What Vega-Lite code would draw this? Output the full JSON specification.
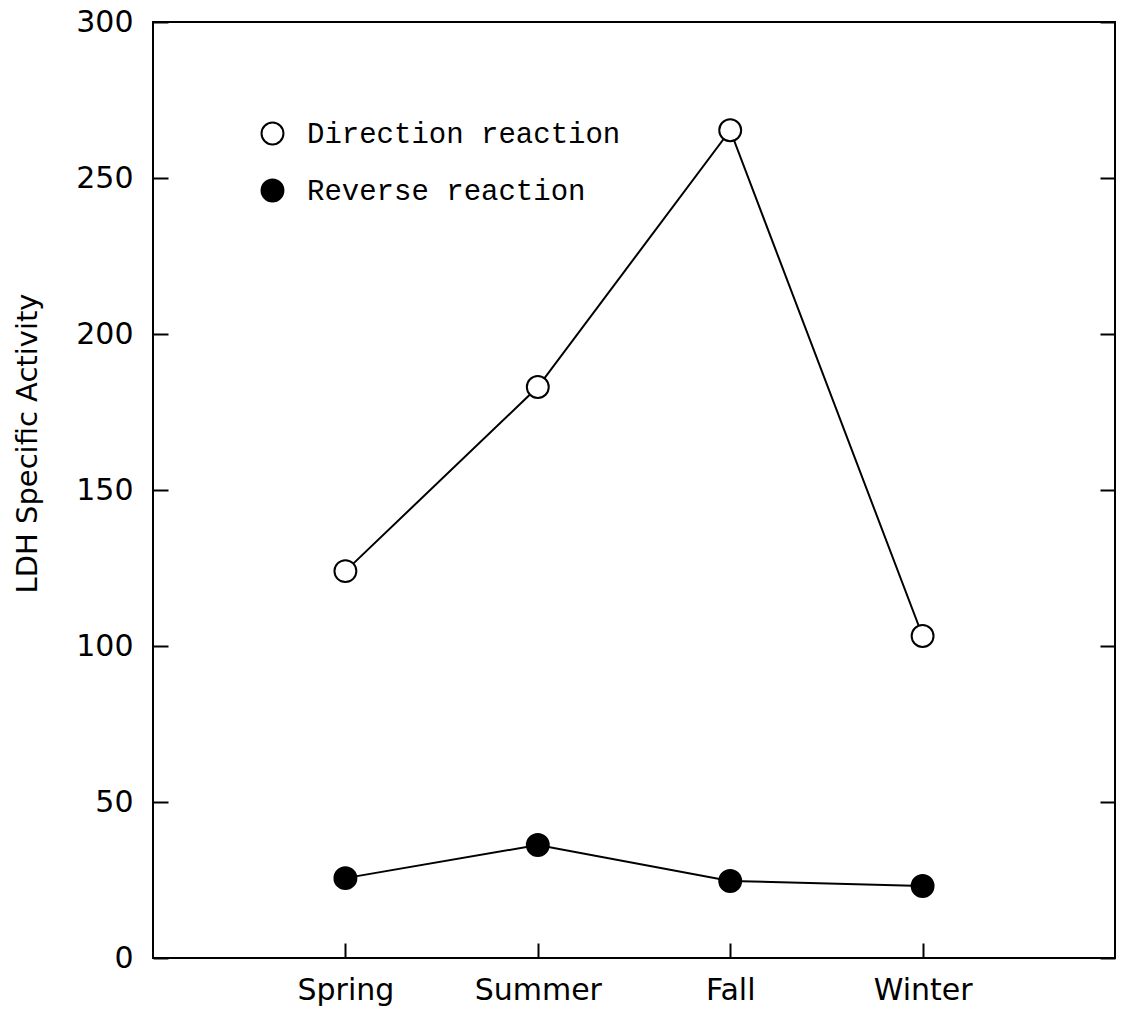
{
  "$schema": "https://vega.github.io/schema/vega-lite/v6.json",
  "width": 962,
  "height": 936,
  "autosize": {"type": "none"},
  "padding": {"left": 153, "top": 22, "right": 7, "bottom": 54},
  "background": "white",
  "config": {
    "view": {"stroke": "black", "strokeWidth": 2},
    "axis": {
      "domainColor": "black",
      "domainWidth": 2,
      "tickColor": "black",
      "tickWidth": 2,
      "labelColor": "black",
      "titleColor": "black",
      "labelFont": "DejaVu Sans",
      "titleFont": "DejaVu Sans",
      "labelFontWeight": "normal",
      "titleFontWeight": "normal",
      "grid": false
    }
  },
  "data": {
    "values": [
      {"season": "Spring", "series": "Direction reaction", "value": 124.0},
      {"season": "Summer", "series": "Direction reaction", "value": 183.0},
      {"season": "Fall", "series": "Direction reaction", "value": 265.3},
      {"season": "Winter", "series": "Direction reaction", "value": 103.2},
      {"season": "Spring", "series": "Reverse reaction", "value": 25.6},
      {"season": "Summer", "series": "Reverse reaction", "value": 36.2},
      {"season": "Fall", "series": "Reverse reaction", "value": 24.7},
      {"season": "Winter", "series": "Reverse reaction", "value": 23.1}
    ]
  },
  "layer": [
    {
      "mark": {"type": "line", "color": "black", "strokeWidth": 2},
      "encoding": {
        "x": {
          "field": "season",
          "type": "ordinal",
          "sort": ["Spring", "Summer", "Fall", "Winter"],
          "scale": {"type": "point", "padding": 1},
          "axis": {
            "title": null,
            "labelAngle": 0,
            "labelFontSize": 30,
            "tickSize": -15,
            "labelPadding": 32,
            "domain": false
          }
        },
        "y": {
          "field": "value",
          "type": "quantitative",
          "scale": {"domain": [0, 300], "nice": false, "zero": true},
          "axis": {
            "title": "LDH Specific Activity",
            "titleFontSize": 29,
            "titleAngle": 270,
            "titleAlign": "center",
            "titleBaseline": "middle",
            "titleX": -126,
            "titleY": 421,
            "values": [0, 50, 100, 150, 200, 250, 300],
            "labelFontSize": 30,
            "tickSize": -15,
            "labelPadding": 35,
            "domain": false
          }
        },
        "detail": {"field": "series"}
      }
    },
    {
      "mark": {"type": "point", "shape": "circle", "filled": true, "stroke": "black", "strokeWidth": 2, "size": 480, "opacity": 1},
      "encoding": {
        "x": {
          "field": "season",
          "type": "ordinal",
          "sort": ["Spring", "Summer", "Fall", "Winter"],
          "axis": {
            "title": null,
            "labelAngle": 0,
            "labelFontSize": 30,
            "tickSize": -15,
            "labelPadding": 32,
            "domain": false
          }
        },
        "y": {
          "field": "value",
          "type": "quantitative",
          "axis": null
        },
        "fill": {
          "field": "series",
          "type": "nominal",
          "scale": {"domain": ["Direction reaction", "Reverse reaction"], "range": ["white", "black"]},
          "legend": {
            "title": null,
            "orient": "none",
            "legendX": 105,
            "legendY": 97,
            "symbolType": "circle",
            "symbolSize": 480,
            "symbolStrokeColor": "black",
            "symbolStrokeWidth": 2,
            "labelFont": "Liberation Mono",
            "labelFontSize": 29,
            "labelColor": "black",
            "labelOffset": 20,
            "labelLimit": 600,
            "rowPadding": 26
          }
        }
      }
    },
    {
      "mark": {"type": "point", "opacity": 0},
      "encoding": {
        "x": {
          "field": "season",
          "type": "ordinal",
          "sort": ["Spring", "Summer", "Fall", "Winter"],
          "axis": {
            "title": null,
            "labelAngle": 0,
            "labelFontSize": 30,
            "tickSize": -15,
            "labelPadding": 32,
            "domain": false
          }
        },
        "y": {
          "field": "value",
          "type": "quantitative",
          "axis": {
            "orient": "right",
            "title": "",
            "labels": false,
            "values": [0, 50, 100, 150, 200, 250, 300],
            "tickSize": -15,
            "domain": false
          }
        }
      }
    }
  ],
  "resolve": {"axis": {"y": "independent"}}
}
